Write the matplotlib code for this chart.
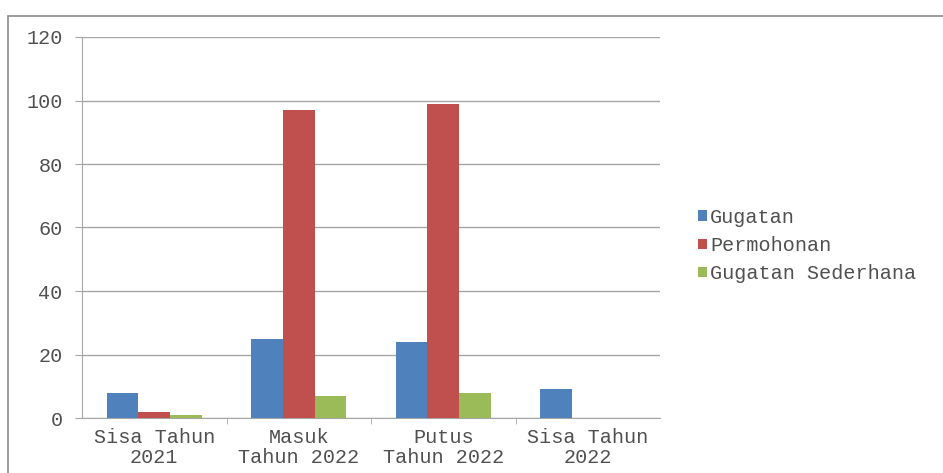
import matplotlib
matplotlib.use("Agg")
import matplotlib.pyplot as plt
import numpy as np
from matplotlib.patches import Rectangle

categories = ["Sisa Tahun\n2021", "Masuk\nTahun 2022", "Putus\nTahun 2022", "Sisa Tahun\n2022"]
gugatan = [8, 25, 24, 9]
permohonan = [2, 97, 99, 0]
gugatan_sederhana = [1, 7, 8, 0]
series_names = ["Gugatan", "Permohonan", "Gugatan Sederhana"]
colors = ["#4F81BD", "#C0504D", "#9BBB59"]

plt.rcParams['font.family'] = ['Liberation Mono', 'DejaVu Sans Mono']
text_color = "#505050"
grid_color = "#a6a6a6"

fig = plt.figure(figsize=(9.43, 4.73), dpi=100)
# outer chart border
fig.patches.append(Rectangle((8 / 943, -0.2), 1.2, 1.2 - 16 / 473,
                             transform=fig.transFigure, fill=False,
                             edgecolor="#8c8c8c", linewidth=1.2))

ax = fig.add_axes([82 / 943, 1 - 418 / 473, (660 - 82) / 943, (418 - 37) / 473])

x = np.arange(len(categories))
w = 0.22
for i, (vals, name, c) in enumerate(zip([gugatan, permohonan, gugatan_sederhana], series_names, colors)):
    ax.bar(x + (i - 1) * w, vals, width=w, color=c, label=name, zorder=3)

ax.set_xlim(-0.5, len(categories) - 0.5)
ax.set_ylim(0, 120)
ax.set_yticks(np.arange(0, 121, 20))
ax.yaxis.grid(True, color=grid_color, linewidth=1)
ax.set_axisbelow(True)

ax.set_xticks(x)
ax.set_xticklabels(categories, fontsize=14.5, color=text_color, linespacing=1.1)
ax.tick_params(axis="x", length=0, pad=7)
ax.set_xticks(np.arange(0.5, len(categories) - 0.5, 1), minor=True)
ax.tick_params(axis="x", which="minor", length=4, color=grid_color, direction="out")
ax.tick_params(axis="y", length=5, color=grid_color, labelsize=14.5, labelcolor=text_color, pad=9)

for s in ["top", "right"]:
    ax.spines[s].set_visible(False)
ax.spines["left"].set_color(grid_color)
ax.spines["bottom"].set_color(grid_color)

ax.legend(loc="upper left", bbox_to_anchor=(690 / 943, 1 - 200 / 473),
          bbox_transform=fig.transFigure, frameon=False,
          handlelength=0.45, handleheight=0.45, handletextpad=0.15,
          labelspacing=0.45, fontsize=14.5, labelcolor=text_color, borderaxespad=0)

fig.savefig("out.png", dpi=100)
